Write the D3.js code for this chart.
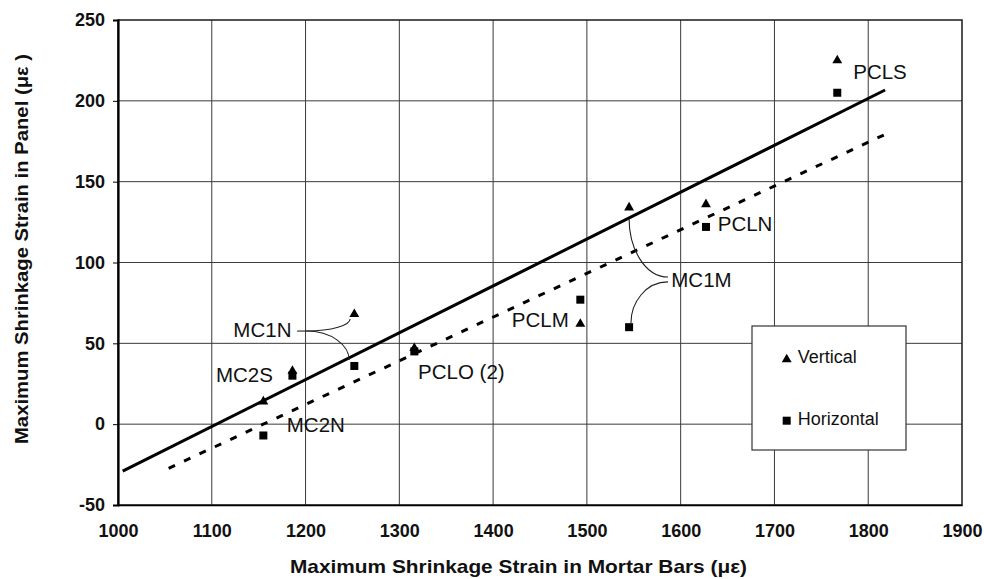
<!DOCTYPE html>
<html>
<head>
<meta charset="utf-8">
<script src="https://cdn.jsdelivr.net/npm/d3@7"></script>
<style>
  html, body { margin: 0; padding: 0; background: #fff; }
  svg { display: block; font-family: "Liberation Sans", Arial, sans-serif; }
</style>
</head>
<body>
<svg id="chart" width="984" height="579"></svg>
<script>
// Specimens and their peak shrinkage strains (microstrain)
const specimens        = ["PCLS", "PCLN", "MC1M", "PCLM", "PCLO (2)", "MC1N", "MC2S", "MC2N"];
const mortarStrain     = [1767, 1627, 1545, 1493, 1316, 1252, 1186, 1155];
const verticalStrain   = [225, 136, 134, 62, 47, 68, 33, 14];
const horizontalStrain = [205, 122, 60, 77, 45, 36, 30, -7];

// Trend lines (end points)
const verticalFitX   = [1005, 1818];
const verticalFitY   = [-29, 206.7];
const horizontalFitX = [1054, 1819];
const horizontalFitY = [-27.3, 179.5];

// Axis ticks
const xTicks = [1000, 1100, 1200, 1300, 1400, 1500, 1600, 1700, 1800, 1900];
const yTicks = [-50, 0, 50, 100, 150, 200, 250];

// Specimen labels (left edge, vertical middle) in data units
const labelNames = ["PCLS", "PCLN", "MC1M", "PCLM", "PCLO (2)", "MC1N", "MC2S", "MC2N"];
const labelX     = [1784, 1639.5, 1590, 1420, 1320, 1123, 1104.5, 1180];
const labelY     = [218, 124.3, 89.5, 64.4, 32.5, 58.3, 30.4, -0.5];

const svg = d3.select("#chart");
const M = { left: 118, right: 962, top: 20, bottom: 505 };

const x = d3.scaleLinear().domain([1000, 1900]).range([M.left, M.right]);
const y = d3.scaleLinear().domain([-50, 250]).range([M.bottom, M.top]);

// Grid
const grid = svg.append("g").attr("stroke", "#3a3a3a").attr("stroke-width", 1);
grid.selectAll("line.v").data(xTicks.slice(1, -1)).join("line")
  .attr("x1", d => x(d)).attr("x2", d => x(d))
  .attr("y1", M.top).attr("y2", M.bottom);
grid.selectAll("line.h").data(yTicks.slice(1, -1)).join("line")
  .attr("x1", M.left).attr("x2", M.right)
  .attr("y1", d => y(d)).attr("y2", d => y(d));

// Frame
svg.append("rect")
  .attr("x", M.left).attr("y", M.top)
  .attr("width", M.right - M.left).attr("height", M.bottom - M.top)
  .attr("fill", "none").attr("stroke", "#1a1a1a").attr("stroke-width", 1.5);

// Axes
const plain = d => String(d);
const yAxis = d3.axisLeft(y).tickValues(yTicks).tickFormat(plain).tickSize(5).tickPadding(8);
const gy = svg.append("g").attr("transform", `translate(${M.left},0)`).call(yAxis);
gy.select(".domain").attr("stroke", "#000").attr("stroke-width", 2.2);
gy.selectAll("text").attr("font-size", 18).attr("font-weight", "bold")
  .attr("font-family", "Liberation Sans, Arial, sans-serif").attr("fill", "#111");

const xAxis = d3.axisBottom(x).tickValues(xTicks).tickFormat(plain).tickSize(0).tickPadding(19);
const gx = svg.append("g").attr("transform", `translate(0,${M.bottom})`).call(xAxis);
gx.select(".domain").attr("stroke", "#000").attr("stroke-width", 1.5);
gx.selectAll("text").attr("font-size", 18).attr("font-weight", "bold")
  .attr("font-family", "Liberation Sans, Arial, sans-serif").attr("fill", "#111");

// Axis titles
svg.append("text")
  .attr("x", 518.5).attr("y", 573)
  .attr("text-anchor", "middle")
  .attr("font-size", 19).attr("font-weight", "bold").attr("fill", "#111")
  .attr("textLength", 457).attr("lengthAdjust", "spacingAndGlyphs")
  .text("Maximum Shrinkage Strain in Mortar Bars (\u03BC\u03B5)");
svg.append("text")
  .attr("transform", "translate(28,249) rotate(-90)")
  .attr("text-anchor", "middle")
  .attr("font-size", 19).attr("font-weight", "bold").attr("fill", "#111")
  .attr("textLength", 390).attr("lengthAdjust", "spacingAndGlyphs")
  .text("Maximum Shrinkage Strain in Panel (\u03BC\u03B5 )");

// Trend lines
const line = d3.line().x(d => x(d[0])).y(d => y(d[1]));
svg.append("path")
  .attr("d", line(d3.zip(verticalFitX, verticalFitY)))
  .attr("fill", "none").attr("stroke", "#000").attr("stroke-width", 3);
svg.append("path")
  .attr("d", line(d3.zip(horizontalFitX, horizontalFitY)))
  .attr("fill", "none").attr("stroke", "#000").attr("stroke-width", 3)
  .attr("stroke-dasharray", "7,10");

// Markers
const tri = d3.symbol().type(d3.symbolTriangle).size(42);
svg.append("g").selectAll("path").data(d3.range(specimens.length)).join("path")
  .attr("d", tri)
  .attr("transform", i => `translate(${x(mortarStrain[i])},${y(verticalStrain[i])})`)
  .attr("fill", "#000");
svg.append("g").selectAll("rect").data(d3.range(specimens.length)).join("rect")
  .attr("x", i => x(mortarStrain[i]) - 4).attr("y", i => y(horizontalStrain[i]) - 4)
  .attr("width", 8).attr("height", 8)
  .attr("fill", "#000");

// Specimen labels
svg.append("g").selectAll("text").data(d3.range(labelNames.length)).join("text")
  .attr("x", i => x(labelX[i])).attr("y", i => y(labelY[i]))
  .attr("dy", "0.36em")
  .attr("font-size", 20.5).attr("fill", "#111")
  .text(i => labelNames[i]);

// Leader curves: leave the label horizontally, arrive at the mark vertically
function leader(from, to) {
  const fx = x(from[0]), fy = y(from[1]), tx = x(to[0]), ty = y(to[1]);
  const p = d3.path();
  p.moveTo(fx, fy);
  p.bezierCurveTo(fx + (tx - fx) * 0.6, fy, tx, ty + (fy - ty) * 0.5, tx, ty);
  return p.toString();
}
const leaders = svg.append("g").attr("fill", "none").attr("stroke", "#222").attr("stroke-width", 1.1);
// MC1N: short horizontal stub, then two branches
leaders.append("path").attr("d", `M${x(1191)},${y(57.6)}L${x(1200.5)},${y(57.6)}`);
leaders.append("path").attr("d", leader([1200.5, 57.6], [1247.5, 65]));
leaders.append("path").attr("d", leader([1200.5, 57.6], [1246.5, 39.7]));
// MC1M: two branches
leaders.append("path").attr("d", leader([1586.5, 91], [1545, 127]));
leaders.append("path").attr("d", leader([1586.5, 88], [1547, 62.6]));

// Legend
const lg = svg.append("g");
lg.append("rect").attr("x", 752).attr("y", 326).attr("width", 154).attr("height", 124)
  .attr("fill", "#fff").attr("stroke", "#333").attr("stroke-width", 1.2);
lg.append("path").attr("d", tri).attr("transform", "translate(786.7,359.5)").attr("fill", "#000");
lg.append("rect").attr("x", 782.7).attr("y", 416.7).attr("width", 8).attr("height", 8).attr("fill", "#000");
lg.append("text").attr("x", 797.7).attr("y", 357).attr("dy", "0.36em")
  .attr("font-size", 18).attr("fill", "#111").text("Vertical");
lg.append("text").attr("x", 797.7).attr("y", 419).attr("dy", "0.36em")
  .attr("font-size", 18).attr("fill", "#111").text("Horizontal");
</script>
</body>
</html>
